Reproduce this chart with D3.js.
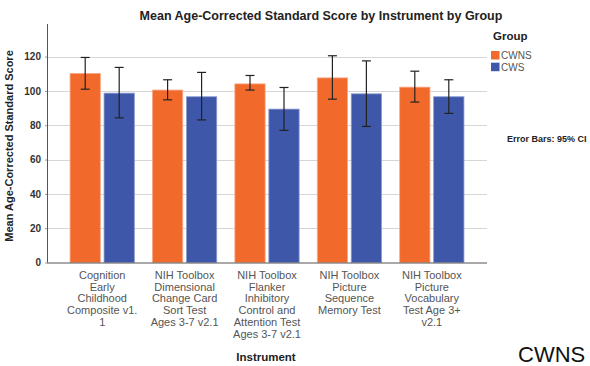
<!DOCTYPE html>
<html>
<head>
<meta charset="utf-8">
<script src="https://cdn.jsdelivr.net/npm/d3@7"></script>
<style>
  html, body { margin: 0; padding: 0; background: #fff; overflow: hidden; }
  svg { display: block; font-family: "Liberation Sans", Arial, sans-serif; }
</style>
</head>
<body>
<svg id="chart" width="590" height="366"></svg>
<script>
// ---- Data ----
const categories = [
  "Cognition Early Childhood Composite v1.1",
  "NIH Toolbox Dimensional Change Card Sort Test Ages 3-7 v2.1",
  "NIH Toolbox Flanker Inhibitory Control and Attention Test Ages 3-7 v2.1",
  "NIH Toolbox Picture Sequence Memory Test",
  "NIH Toolbox Picture Vocabulary Test Age 3+ v2.1"
];
const categoryLines = [
  ["Cognition", "Early", "Childhood", "Composite v1.", "1"],
  ["NIH Toolbox", "Dimensional", "Change Card", "Sort Test", "Ages 3-7 v2.1"],
  ["NIH Toolbox", "Flanker", "Inhibitory", "Control and", "Attention Test", "Ages 3-7 v2.1"],
  ["NIH Toolbox", "Picture", "Sequence", "Memory Test"],
  ["NIH Toolbox", "Picture", "Vocabulary", "Test Age 3+", "v2.1"]
];
const groups = ["CWNS", "CWS"];
const cwnsMean = [110.2, 100.5, 104.1, 107.6, 102.2];
const cwnsLow  = [101.0, 94.8, 100.5, 95.2, 93.5];
const cwnsHigh = [119.5, 106.5, 109.0, 120.5, 111.5];
const cwsMean  = [98.7, 96.6, 89.4, 98.3, 96.6];
const cwsLow   = [84.3, 83.1, 77.0, 79.3, 86.9];
const cwsHigh  = [113.7, 110.8, 102.0, 117.5, 106.5];
const yTicks = [0, 20, 40, 60, 80, 100, 120];
const colors = ["#F26A2B", "#3E57A9"];
const strokeColors = ["#F9A987", "#8C9BD0"];

const series = [
  { name: groups[0], mean: cwnsMean, low: cwnsLow, high: cwnsHigh },
  { name: groups[1], mean: cwsMean, low: cwsLow, high: cwsHigh }
];
const rows = [];
categories.forEach((c, i) => {
  series.forEach((s, gi) => {
    rows.push({ cat: c, group: s.name, gi, mean: s.mean[i], low: s.low[i], high: s.high[i] });
  });
});

// ---- Layout ----
const svg = d3.select("#chart");
const plot = { left: 47, right: 487, top: 24, bottom: 262.5 };

const x0 = d3.scaleBand().domain(categories).range([61, 473])
  .paddingInner(0.22).paddingOuter(0.11);
const x1 = d3.scaleBand().domain(groups).range([0, x0.bandwidth()])
  .paddingInner(0.109).paddingOuter(0);
const y = d3.scaleLinear().domain([0, 139]).range([plot.bottom, plot.top]);

// gridlines
svg.append("g").selectAll("line").data(yTicks.filter(d => d > 0)).join("line")
  .attr("x1", plot.left).attr("x2", plot.right)
  .attr("y1", d => Math.round(y(d)) + 0.5).attr("y2", d => Math.round(y(d)) + 0.5)
  .attr("stroke", "#d6d6d6").attr("stroke-width", 1);

// bars
svg.append("g").selectAll("rect").data(rows).join("rect")
  .attr("x", d => x0(d.cat) + x1(d.group))
  .attr("y", d => y(d.mean))
  .attr("width", x1.bandwidth())
  .attr("height", d => y(0) - y(d.mean))
  .attr("fill", d => colors[d.gi])
  .attr("stroke", d => strokeColors[d.gi])
  .attr("stroke-width", 0.8);

// error bars
const eb = svg.append("g").selectAll("g").data(rows).join("g")
  .attr("stroke", "#222").attr("stroke-width", 1.2);
const cx = d => x0(d.cat) + x1(d.group) + x1.bandwidth() / 2;
eb.append("line").attr("x1", cx).attr("x2", cx)
  .attr("y1", d => y(d.low)).attr("y2", d => y(d.high));
eb.append("line").attr("x1", d => cx(d) - 4.5).attr("x2", d => cx(d) + 4.5)
  .attr("y1", d => y(d.low)).attr("y2", d => y(d.low));
eb.append("line").attr("x1", d => cx(d) - 4.5).attr("x2", d => cx(d) + 4.5)
  .attr("y1", d => y(d.high)).attr("y2", d => y(d.high));

// y axis
const yAxis = svg.append("g").attr("transform", `translate(${plot.left},0)`)
  .call(d3.axisLeft(y).tickValues(yTicks).tickSize(2).tickPadding(4));
yAxis.select(".domain").attr("stroke", "#555").attr("d", `M0.5,${plot.top}V${plot.bottom}`);
yAxis.selectAll(".tick line").attr("stroke", "#999");
yAxis.selectAll(".tick text").attr("fill", "#333").style("font-size", "10px")
  .style("font-weight", "bold").style("font-family", "'Liberation Sans', Arial, sans-serif");

// x axis
const xAxis = svg.append("g").attr("transform", `translate(0,${plot.bottom})`)
  .call(d3.axisBottom(x0).tickSize(0).tickFormat(""));
xAxis.select(".domain").attr("stroke", "#555").attr("d", `M${plot.left},0.5H${plot.right}`);
xAxis.selectAll(".tick").each(function(d, i) {
  const t = d3.select(this).append("text")
    .attr("fill", "#555").attr("text-anchor", "middle")
    .style("font-size", "11px").style("font-family", "'Liberation Sans', Arial, sans-serif");
  categoryLines[i].forEach((ln, k) => {
    t.append("tspan").attr("x", 0).attr("y", 16.5 + k * 11.7).text(ln);
  });
});

// titles
svg.append("text").attr("x", 321).attr("y", 20).attr("text-anchor", "middle")
  .style("font-size", "12.5px").style("font-weight", "bold").attr("fill", "#222")
  .text("Mean Age-Corrected Standard Score by Instrument by Group");
svg.append("text").attr("transform", "translate(13,146) rotate(-90)")
  .attr("text-anchor", "middle").style("font-size", "11px").style("font-weight", "bold")
  .attr("fill", "#222").text("Mean Age-Corrected Standard Score");
svg.append("text").attr("x", 266).attr("y", 361).attr("text-anchor", "middle")
  .style("font-size", "11.5px").style("font-weight", "bold").attr("fill", "#222")
  .text("Instrument");

// legend
const lg = svg.append("g");
lg.append("text").attr("x", 493).attr("y", 40).style("font-size", "11.5px")
  .style("font-weight", "bold").attr("fill", "#222").text("Group");
groups.forEach((g, i) => {
  lg.append("rect").attr("x", 491).attr("y", 51 + i * 11.7).attr("width", 8.5).attr("height", 8.5)
    .attr("fill", colors[i]);
  lg.append("text").attr("x", 501).attr("y", 59 + i * 11.7).style("font-size", "10px")
    .attr("fill", "#555").text(g);
});
svg.append("text").attr("x", 507).attr("y", 142).style("font-size", "9px")
  .style("font-weight", "bold").attr("fill", "#222").text("Error Bars: 95% CI");

svg.append("text").attr("x", 518).attr("y", 362).style("font-size", "22px")
  .attr("fill", "#111").text(groups[0]);
</script>
</body>
</html>
